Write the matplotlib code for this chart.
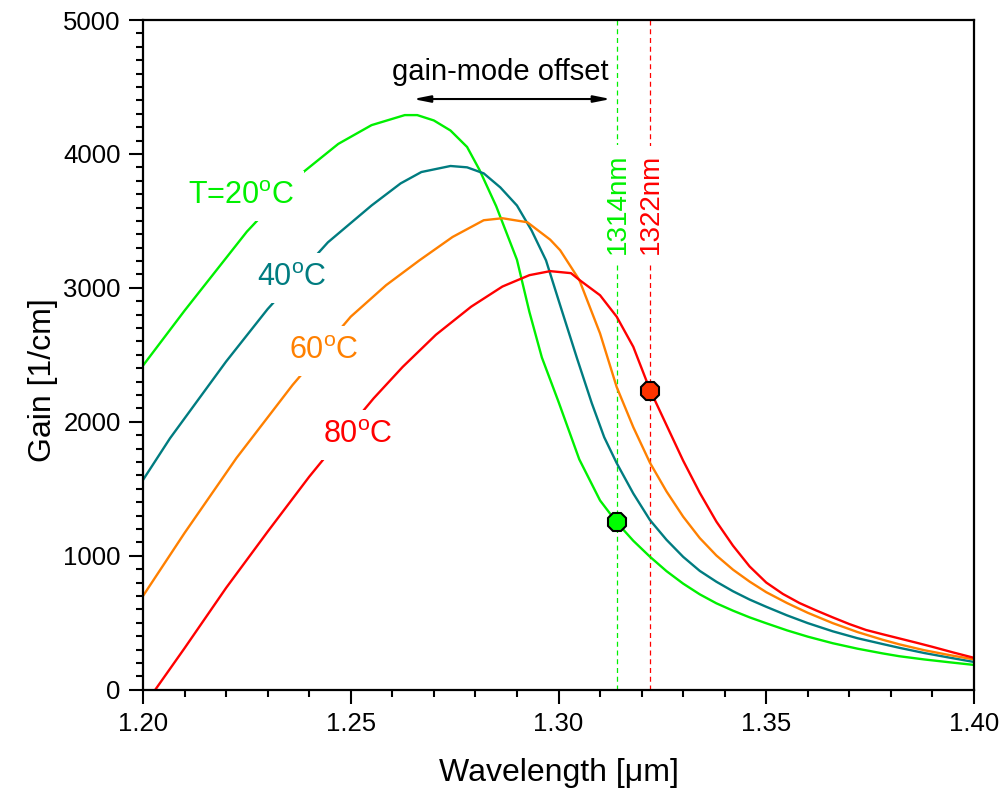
import numpy as np
import matplotlib
matplotlib.use('Agg')
import matplotlib.pyplot as plt
from matplotlib.ticker import MultipleLocator, FormatStrFormatter

plt.rcParams['font.family'] = ['Liberation Sans', 'DejaVu Sans']
plt.rcParams['mathtext.fontset'] = 'custom'
plt.rcParams['mathtext.rm'] = 'Liberation Sans'

# gain spectra at four temperatures (wavelength in um, gain in 1/cm)
wl_20 = [1.200, 1.210, 1.225, 1.238, 1.247, 1.255, 1.263, 1.266, 1.270, 1.274,
         1.278, 1.281, 1.285, 1.290, 1.293, 1.296, 1.300, 1.305, 1.310, 1.314,
         1.318, 1.322, 1.326, 1.330, 1.334, 1.338, 1.342, 1.346, 1.350, 1.355,
         1.360, 1.366, 1.372, 1.378, 1.382, 1.388, 1.394, 1.400]
gain_20 = [2420, 2830, 3420, 3850, 4075, 4215, 4290, 4290, 4250, 4175,
           4052, 3880, 3610, 3210, 2820, 2480, 2150, 1720, 1413, 1250,
           1112, 993, 885, 792, 712, 645, 590, 540, 496, 443,
           396, 347, 306, 271, 250, 226, 205, 185]

wl_40 = [1.200, 1.2065, 1.220, 1.230, 1.2445, 1.255, 1.262, 1.267, 1.274, 1.278,
         1.282, 1.286, 1.290, 1.2935, 1.297, 1.3004, 1.3045, 1.308, 1.311, 1.314,
         1.318, 1.322, 1.326, 1.330, 1.334, 1.338, 1.342, 1.346, 1.350, 1.355,
         1.360, 1.366, 1.372, 1.378, 1.382, 1.388, 1.394, 1.400]
gain_40 = [1566, 1877, 2450, 2842, 3340, 3615, 3780, 3865, 3910, 3900,
           3855, 3750, 3615, 3430, 3205, 2870, 2470, 2140, 1885, 1692,
           1465, 1267, 1119, 992, 887, 806, 735, 673, 619, 555,
           497, 436, 384, 341, 313, 274, 240, 207]

wl_60 = [1.200, 1.210, 1.2225, 1.236, 1.250, 1.2585, 1.2665, 1.2745, 1.282, 1.2865,
         1.2925, 1.298, 1.3004, 1.305, 1.310, 1.314, 1.318, 1.322, 1.326, 1.330,
         1.334, 1.338, 1.342, 1.346, 1.350, 1.355, 1.360, 1.366, 1.372, 1.378,
         1.382, 1.388, 1.394, 1.400]
gain_60 = [700, 1170, 1730, 2275, 2785, 3020, 3205, 3380, 3505, 3520,
           3490, 3360, 3281, 3060, 2660, 2260, 1960, 1695, 1480, 1292,
           1132, 1002, 896, 807, 728, 647, 574, 497, 430, 373,
           339, 295, 259, 226]

wl_80 = [1.200, 1.210, 1.220, 1.230, 1.240, 1.250, 1.2555, 1.2625, 1.2705, 1.279,
         1.2865, 1.293, 1.298, 1.303, 1.305, 1.310, 1.314, 1.318, 1.322, 1.326,
         1.330, 1.334, 1.338, 1.342, 1.346, 1.350, 1.354, 1.358, 1.362, 1.366,
         1.370, 1.374, 1.378, 1.382, 1.386, 1.390, 1.395, 1.400]
gain_80 = [-130, 310, 760, 1180, 1590, 1970, 2175, 2410, 2650, 2860,
           3010, 3095, 3125, 3110, 3060, 2945, 2785, 2560, 2240, 1975,
           1710, 1470, 1255, 1075, 920, 800, 715, 647, 592, 540,
           490, 446, 414, 383, 352, 320, 278, 238]

# lasing wavelengths and the gain picked up there
mode_wl = [1.314, 1.322]
mode_gain = [1250, 2230]

green = '#00F000'
teal = '#007C80'
orange = '#FF8000'
red = '#FF0000'

fig = plt.figure(figsize=(10.04, 7.92), dpi=100)
ax = fig.add_axes([143 / 1004, (792 - 689.7) / 792, 831 / 1004, 669.7 / 792])

ax.axvline(mode_wl[0], color=green, ls=(0, (4, 3)), lw=0.9, zorder=1)
ax.axvline(mode_wl[1], color=red, ls=(0, (4, 3)), lw=0.9, zorder=1)

ax.plot(wl_20, gain_20, color=green, lw=1.7, zorder=2)
ax.plot(wl_40, gain_40, color=teal, lw=1.7, zorder=2)
ax.plot(wl_60, gain_60, color=orange, lw=1.7, zorder=2)
ax.plot(wl_80, gain_80, color=red, lw=1.7, zorder=2)

ax.plot(mode_wl[0], mode_gain[0], marker='8', ms=14, mfc='#00FF00', mec='black', mew=1.5, zorder=5)
ax.plot(mode_wl[1], mode_gain[1], marker='8', ms=14, mfc='#FF3300', mec='black', mew=1.5, zorder=5)

box = dict(facecolor='white', edgecolor='none', pad=7)
ax.text(1.2236, 3686, r'T=20$^{\mathrm{o}}$C', color=green, fontsize=22, ha='center', va='center', bbox=box, zorder=3)
ax.text(1.2359, 3074, r'40$^{\mathrm{o}}$C', color=teal, fontsize=22, ha='center', va='center', bbox=box, zorder=3)
ax.text(1.2436, 2529, r'60$^{\mathrm{o}}$C', color=orange, fontsize=22, ha='center', va='center', bbox=box, zorder=3)
ax.text(1.2517, 1900, r'80$^{\mathrm{o}}$C', color=red, fontsize=22, ha='center', va='center', bbox=box, zorder=3)

vbox = dict(facecolor='white', edgecolor='none', pad=6)
ax.text(1.3143, 3626, '1314nm', color=green, fontsize=20, rotation=90, ha='center', va='center', bbox=vbox, zorder=3)
ax.text(1.3222, 3626, '1322nm', color=red, fontsize=20, rotation=90, ha='center', va='center', bbox=vbox, zorder=3)

ax.annotate('', xy=(1.3126, 4410), xytext=(1.265, 4410),
            arrowprops=dict(arrowstyle='<|-|>,head_length=1.0,head_width=0.2',
                            color='black', lw=1.5, shrinkA=0, shrinkB=0))
ax.text(1.2859, 4612, 'gain-mode offset', fontsize=21, ha='center', va='center')

ax.set_xlim(1.20, 1.40)
ax.set_ylim(0, 5000)
ax.xaxis.set_major_locator(MultipleLocator(0.05))
ax.xaxis.set_minor_locator(MultipleLocator(0.01))
ax.xaxis.set_major_formatter(FormatStrFormatter('%.2f'))
ax.yaxis.set_major_locator(MultipleLocator(1000))
ax.yaxis.set_minor_locator(MultipleLocator(100))

ax.tick_params(which='both', direction='out', width=1.5, labelsize=18.5)
ax.tick_params(which='major', length=10)
ax.tick_params(which='minor', length=5)
ax.tick_params(axis='x', pad=6)
ax.tick_params(axis='y', pad=6)
for s in ax.spines.values():
    s.set_linewidth(1.6)

ax.set_xlabel('Wavelength [μm]', fontsize=23)
ax.set_ylabel('Gain [1/cm]', fontsize=23)
ax.xaxis.set_label_coords(0.5, -0.102)
ax.yaxis.set_label_coords(-0.102, 0.462)

fig.savefig('out.png', dpi=100)
